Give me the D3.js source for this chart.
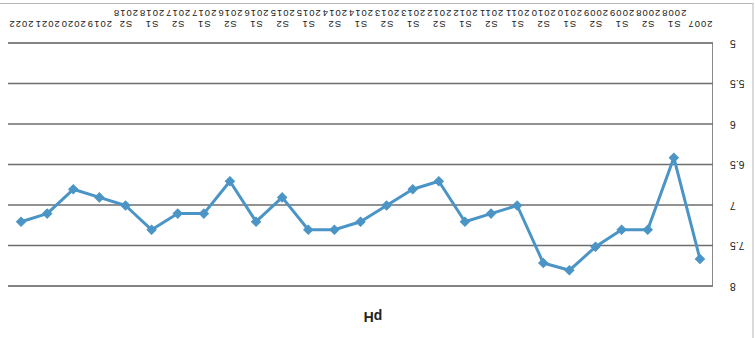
<!DOCTYPE html>
<html>
<head>
<meta charset="utf-8">
<script src="https://cdn.jsdelivr.net/npm/d3@7"></script>
<style>
  html, body { margin: 0; padding: 0; background: #fff; }
  svg { display: block; font-family: "Liberation Sans", Arial, sans-serif; }
</style>
</head>
<body>
<svg id="chart" width="755" height="338"></svg>
<script>
// ---- data ----
const categories = [
  "2007",
  "S1 2008", "S2 2008", "S1 2009", "S2 2009", "S1 2010", "S2 2010",
  "S1 2011", "S2 2011", "S1 2012", "S2 2012", "S1 2013", "S2 2013",
  "S1 2014", "S2 2014", "S1 2015", "S2 2015", "S1 2016", "S2 2016",
  "S1 2017", "S2 2017", "S1 2018", "S2 2018",
  "2019", "2020", "2021", "2022"
];
const phValues = [
  7.66,
  6.41, 7.30, 7.30, 7.51, 7.80, 7.71,
  7.00, 7.10, 7.20, 6.70, 6.80, 7.00,
  7.20, 7.30, 7.30, 6.90, 7.20, 6.70,
  7.10, 7.10, 7.30, 7.00,
  6.90, 6.80, 7.10, 7.20
];
const yTicks = [5, 5.5, 6, 6.5, 7, 7.5, 8];
const chartTitle = "pH";

// ---- layout ----
const W = 755, H = 338;
const plotLeft = 42, plotRight = 747, plotTop = 51.5, plotBottom = 294.5;
const lineColor = "#4b95c6";

const svg = d3.select("#chart");
// whole chart is shown rotated by 180 degrees, as in the reference picture
const root = svg.append("g").attr("transform", `rotate(180 ${W/2} ${H/2})`);

// outer frame
root.append("rect")
  .attr("x", 2).attr("y", -3).attr("width", W + 10).attr("height", H + 1.5 - 2)
  .attr("fill", "none").attr("stroke", "#b5b5b5").attr("stroke-width", 1);

const x = d3.scaleBand().domain(categories).range([plotLeft, plotRight]);
const y = d3.scaleLinear().domain([5, 8]).range([plotBottom, plotTop]);

// y axis with gridlines
const yAxis = root.append("g")
  .attr("transform", `translate(${plotLeft},0)`)
  .call(d3.axisLeft(y).tickValues(yTicks).tickSize(-(plotRight - plotLeft)).tickPadding(17)
        .tickFormat(d => String(d)));
yAxis.select(".domain").attr("stroke", "#8a8a8a").attr("stroke-width", 1);
yAxis.selectAll(".tick line").attr("stroke", "#6e6e6e").attr("stroke-width", 1.5);
yAxis.selectAll(".tick text").attr("font-size", 10.5).attr("fill", "#1a1a1a");

// x axis (labels only)
const xAxis = root.append("g")
  .attr("transform", `translate(0,${plotBottom})`)
  .call(d3.axisBottom(x).tickSize(0).tickFormat(""));
xAxis.select(".domain").remove();
xAxis.selectAll(".tick").each(function(d) {
  const parts = d.split(" ");
  const t = d3.select(this).append("text")
    .attr("fill", "#1a1a1a").attr("font-size", 9.5)
    .attr("letter-spacing", 1.0)
    .attr("text-anchor", "middle");
  t.append("tspan").attr("x", 0).attr("y", 23).text(parts[0]);
  if (parts.length > 1) t.append("tspan").attr("x", 0).attr("y", 34).text(parts[1]);
});

// line
const line = d3.line()
  .x((d, i) => x(categories[i]) + x.bandwidth() / 2)
  .y(d => y(d));
root.append("path")
  .datum(phValues)
  .attr("d", line)
  .attr("fill", "none")
  .attr("stroke", lineColor)
  .attr("stroke-width", 3)
  .attr("stroke-linejoin", "round");

// diamond markers (square rotated 45 degrees)
const marker = d3.symbol().type(d3.symbolSquare).size(42);
root.append("g").selectAll("path")
  .data(phValues)
  .join("path")
  .attr("d", marker)
  .attr("transform", (d, i) => `translate(${x(categories[i]) + x.bandwidth() / 2},${y(d)}) rotate(45)`)
  .attr("fill", lineColor)
  .attr("stroke", lineColor)
  .attr("stroke-width", 1);

// title
root.append("text")
  .attr("x", 382).attr("y", 26)
  .attr("text-anchor", "middle")
  .attr("font-size", 14).attr("font-weight", "bold")
  .attr("fill", "#222")
  .text(chartTitle);
</script>
</body>
</html>
